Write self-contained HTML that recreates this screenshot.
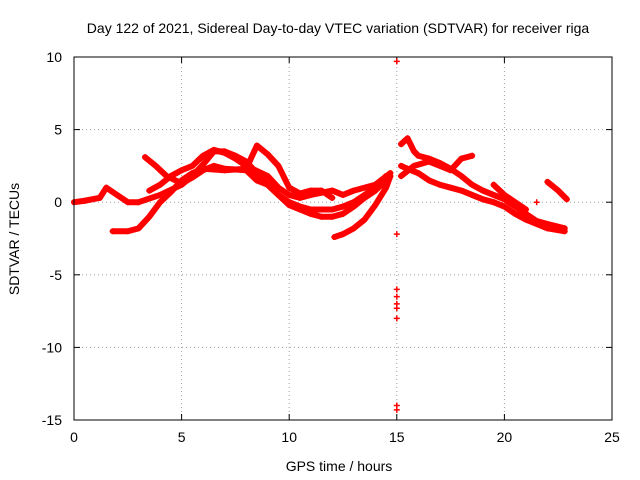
<!DOCTYPE html>
<html><head><meta charset="utf-8"><style>
body{margin:0;background:#fff;}
svg{display:block;font-family:"Liberation Sans",sans-serif;}
</style></head><body>
<svg id="chart" width="640" height="480">
<rect width="640" height="480" fill="#fff"/>
<text x="338" y="33" font-size="14" text-anchor="middle">Day 122 of 2021, Sidereal Day-to-day VTEC variation (SDTVAR) for receiver riga</text>
<text x="339" y="471" font-size="14" text-anchor="middle">GPS time / hours</text>
<text x="19" y="239" font-size="14" text-anchor="middle" transform="rotate(-90 19 239)">SDTVAR / TECUs</text>
<g id="grid"></g><g id="ticks"></g><g id="series"></g>
<rect x="74" y="57" width="538" height="363" fill="none" stroke="#000" stroke-width="1"/>
</svg>
<script>
const xTicks=[0,5,10,15,20,25];
const yTicks=[10,5,0,-5,-10,-15];
const trackA=[[0,0],[0.5,0.1],[1.2,0.3],[1.5,1.0],[2,0.5],[2.5,0],[3,0],[4,0.5],[5,1.2],[5.5,1.8],[6,2.6],[6.5,3.5],[7,3.5],[7.5,3.2],[8,2.8],[8.5,2],[9,1.2],[9.5,0.5],[10,0],[10.5,-0.3],[11,-0.5],[12,-0.5],[12.5,-0.3],[13,0],[13.5,0.5],[14,1],[14.5,1.8]];
const trackB=[[1.8,-2],[2.5,-2],[3,-1.8],[3.5,-1],[4,0],[4.5,0.7],[5,1.5],[5.5,2],[6,2.3],[7,2.2],[8,2.3],[8.5,3.9],[9,3.3],[9.5,2.5],[10,1],[10.5,0.6],[11,0.8],[11.5,0.8],[12,0.3]];
const trackC=[[3.3,3.1],[3.8,2.5],[4.3,1.8],[5,1.3],[5.5,1.7],[6,2.2],[6.5,2.5],[7,2.3],[8,2.2],[8.5,1.5],[9,1.2],[9.5,0.5],[10,-0.2],[10.5,-0.5],[11,-0.8],[11.5,-1],[12,-1],[12.5,-0.8],[13,-0.3],[13.5,0.3],[14,0.8],[14.5,1.5]];
const trackD=[[12.1,-2.4],[12.5,-2.2],[13,-1.8],[13.5,-1.2],[14,-0.2],[14.5,1.0],[14.7,1.8]];
const trackE=[[3.5,0.8],[4,1.2],[4.5,1.8],[5,2.2],[5.5,2.5],[6,3.2],[6.5,3.6],[7,3.4],[7.5,3],[8,2.5],[9,1.8],[9.5,1],[10,0.5],[10.5,0.3],[11,0.5],[12,0.8],[12.5,0.5],[13,0.8],[14,1.2],[14.7,2]];
const trackF=[[15.2,2.5],[15.5,2.3],[16,2],[16.5,1.5],[17,1.2],[17.5,1],[18,0.8],[18.5,0.5],[19,0.2],[19.5,0],[20,-0.3],[20.5,-0.8],[21,-1.2],[21.5,-1.5],[22,-1.8],[22.8,-2]];
const trackG=[[15.2,4.0],[15.5,4.4],[15.8,3.5],[16,3.2],[16.5,3],[17,2.7],[17.5,2.3],[18,1.8],[18.5,1.2],[19,0.8],[19.5,0.5],[20,0.2],[20.5,-0.3],[21,-0.8],[21.5,-1.3],[22,-1.5],[22.8,-1.8]];
const trackH=[[15.2,1.8],[15.8,2.5],[16.5,2.8],[17,2.5],[17.5,2.2],[18,3],[18.5,3.2]];
const trackI=[[19.5,1.2],[20,0.5],[20.5,0],[21,-0.5]];
const trackJ=[[22,1.4],[22.5,0.8],[22.9,0.2]];
const outliers=[[15,9.7],[15,-2.2],[15,-6],[15,-6.5],[15,-7],[15,-7.3],[15,-8],[15,-14],[15,-14.3],[21.5,0]];
const tracks=[trackA,trackB,trackC,trackD,trackE,trackF,trackG,trackH,trackI,trackJ];
const X0=74,X1=612,Y0=420,Y1=57,xMin=0,xMax=25,yMin=-15,yMax=10;
const sx=v=>X0+(v-xMin)/(xMax-xMin)*(X1-X0);
const sy=v=>Y0-(v-yMin)/(yMax-yMin)*(Y0-Y1);
const NS="http://www.w3.org/2000/svg";
const grid=document.getElementById('grid'),ticks=document.getElementById('ticks'),ser=document.getElementById('series');
function mk(t,a,p){const e=document.createElementNS(NS,t);for(const k in a)e.setAttribute(k,a[k]);p.appendChild(e);return e;}
xTicks.forEach(v=>{const x=sx(v);
 if(v>xMin&&v<xMax){const g=mk('line',{x1:x,x2:x,y1:Y0,y2:Y1,stroke:'#a0a0a0','stroke-dasharray':'1,3'},grid);
 
 }
 mk('line',{x1:x,x2:x,y1:Y0,y2:Y0-6,stroke:'#000'},ticks);mk('line',{x1:x,x2:x,y1:Y1,y2:Y1+6,stroke:'#000'},ticks);
 const t=mk('text',{x:x,y:Y0+22,'font-size':14,'text-anchor':'middle'},ticks);t.textContent=v;
 
 });
yTicks.forEach(v=>{const y=sy(v);
 if(v>yMin&&v<yMax){const g=mk('line',{x1:X0,x2:X1,y1:y,y2:y,stroke:'#a0a0a0','stroke-dasharray':'1,3'},grid);
 
 }
 mk('line',{x1:X0,x2:X0+6,y1:y,y2:y,stroke:'#000'},ticks);mk('line',{x1:X1,x2:X1-6,y1:y,y2:y,stroke:'#000'},ticks);
 const t=mk('text',{x:X0-12,y:y+5,'font-size':14,'text-anchor':'end'},ticks);t.textContent=v;
 
 });
function plus(v,i){const x=sx(v[0]),y=sy(v[1]);
 const p=mk('path',{d:`M${x-3},${y}h6M${x},${y-3}v6`,stroke:'#f00','stroke-width':1.5},ser);
 
 }
tracks.forEach(tr=>{
 const pl=mk('polyline',{points:tr.map(p=>sx(p[0])+','+sy(p[1])).join(' '),fill:'none',stroke:'#f00','stroke-width':6,'stroke-linejoin':'round','stroke-linecap':'round'},ser);
 
 
 tr.forEach(plus);});
outliers.forEach(plus);
</script>
</body></html>
